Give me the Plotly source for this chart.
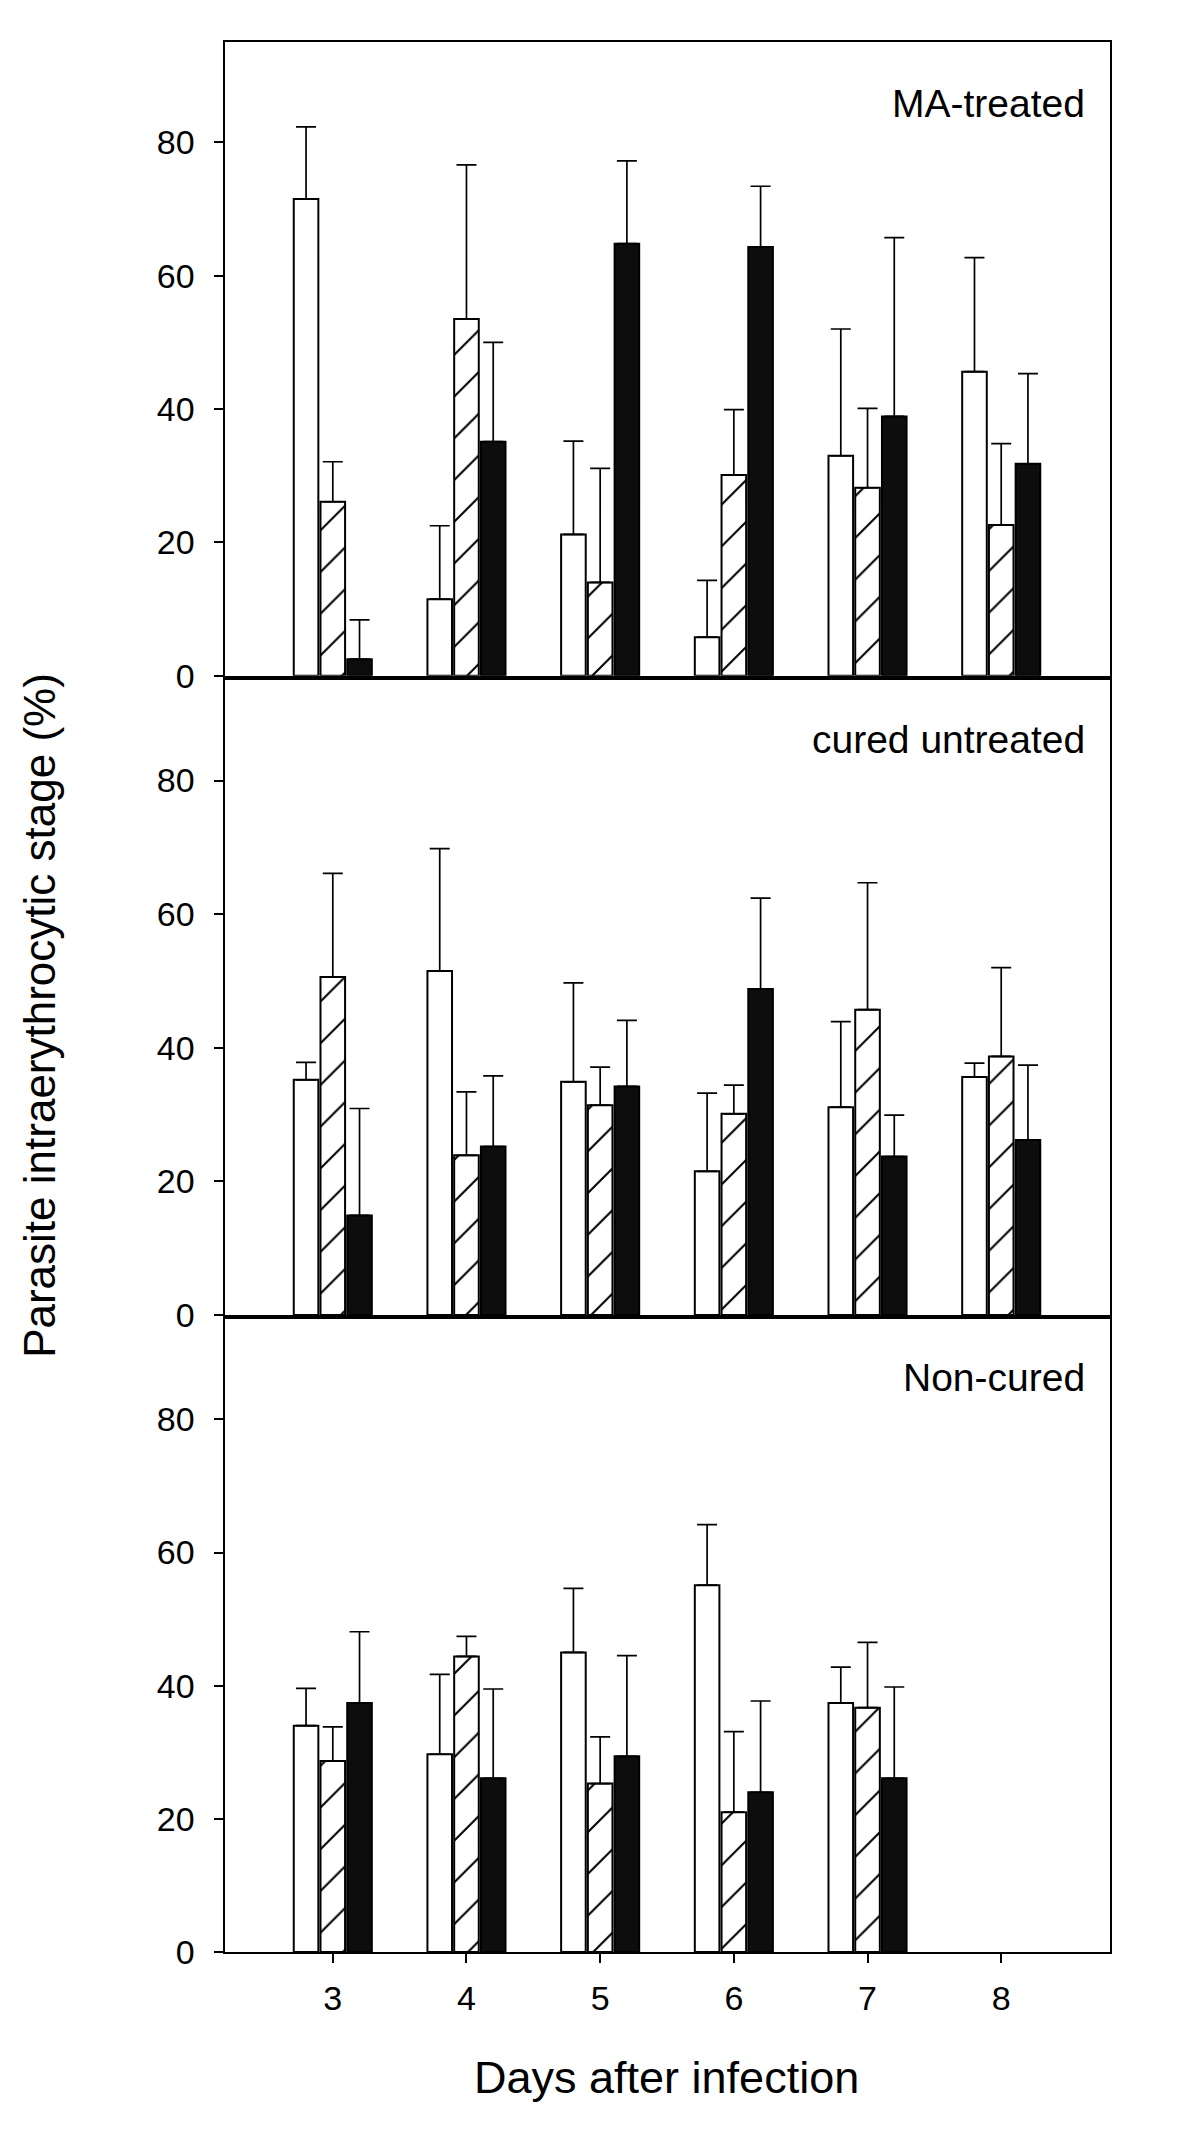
import plotly.graph_objects as go

# ---------------- data ----------------
days = [3, 4, 5, 6, 7, 8]
days_noncured = [3, 4, 5, 6, 7]
panel_names = ["MA-treated", "cured untreated", "Non-cured"]
y_ticks = [0, 20, 40, 60, 80]

# MA-treated
ma_white = [71.5, 11.5, 21.2, 5.8, 33.0, 45.6]
ma_white_err = [10.8, 11.0, 14.0, 8.5, 19.0, 17.1]
ma_hatch = [26.1, 53.5, 14.0, 30.1, 28.2, 22.6]
ma_hatch_err = [6.0, 23.1, 17.1, 9.8, 11.9, 12.2]
ma_black = [2.5, 35.1, 64.8, 64.3, 38.9, 31.8]
ma_black_err = [5.9, 14.9, 12.4, 9.1, 26.8, 13.5]

# cured untreated
cu_white = [35.2, 51.5, 34.9, 21.5, 31.1, 35.6]
cu_white_err = [2.6, 18.3, 14.8, 11.7, 12.8, 2.1]
cu_hatch = [50.6, 23.9, 31.4, 30.1, 45.7, 38.7]
cu_hatch_err = [15.5, 9.5, 5.7, 4.3, 19.0, 13.3]
cu_black = [14.9, 25.2, 34.2, 48.8, 23.7, 26.2]
cu_black_err = [16.0, 10.6, 9.9, 13.6, 6.2, 11.2]

# Non-cured
nc_white = [34.0, 29.7, 45.0, 55.1, 37.4]
nc_white_err = [5.6, 12.0, 9.6, 9.1, 5.4]
nc_hatch = [28.7, 44.4, 25.3, 21.0, 36.7]
nc_hatch_err = [5.1, 3.0, 7.0, 12.1, 9.8]
nc_black = [37.4, 26.1, 29.4, 24.0, 26.1]
nc_black_err = [10.7, 13.4, 15.1, 13.7, 13.7]

# ---------------- figure ----------------
FONT = "Liberation Sans, Arial, Helvetica, sans-serif"
PAGE_W, PAGE_H = 1200, 2155
OFF = 8  # default body margin of the html page
W, H = PAGE_W - 2 * OFF, PAGE_H - 2 * OFF
VSCALE, VSHIFT = 0.9925, -1.7  # observed vertical mapping of the screenshot


def px_x(x):
    return (x - OFF) / W


def px_y(y):
    page = (y - VSHIFT) / VSCALE
    return 1 - (page - OFF) / H


panels = [
    ("", days, (ma_white, ma_white_err), (ma_hatch, ma_hatch_err), (ma_black, ma_black_err)),
    ("2", days, (cu_white, cu_white_err), (cu_hatch, cu_hatch_err), (cu_black, cu_black_err)),
    ("3", days_noncured, (nc_white, nc_white_err), (nc_hatch, nc_hatch_err), (nc_black, nc_black_err)),
]

fig = go.Figure()


def err(arr):
    return dict(type="data", symmetric=False, array=arr, arrayminus=[0] * len(arr),
                color="black", thickness=1.7, width=10)


line = dict(color="black", width=2)
for suf, xs, wh, ha, bl in panels:
    xa, ya = "x" + suf, "y" + suf
    fig.add_trace(go.Bar(x=xs, y=wh[0], error_y=err(wh[1]), xaxis=xa, yaxis=ya,
                         marker=dict(color="white", line=line), offsetgroup="a"))
    fig.add_trace(go.Bar(x=xs, y=ha[0], error_y=err(ha[1]), xaxis=xa, yaxis=ya,
                         marker=dict(color="white", line=line,
                                     pattern=dict(shape="/", fgcolor="black", bgcolor="white",
                                                  size=29.5, solidity=0.07, fillmode="replace")),
                         offsetgroup="b"))
    fig.add_trace(go.Bar(x=xs, y=bl[0], error_y=err(bl[1]), xaxis=xa, yaxis=ya,
                         marker=dict(color="#0d0d0d", line=line), offsetgroup="c"))

xdom = [px_x(224.5), px_x(1109.5)]
ydoms = [
    [px_y(675), px_y(40.5)],
    [px_y(1315), px_y(679.5)],
    [px_y(1953), px_y(1319.5)],
]

layout = dict(
    width=W, height=H,
    margin=dict(l=0, r=0, t=0, b=0),
    paper_bgcolor="white", plot_bgcolor="white",
    showlegend=False,
    barmode="group", bargap=0.4, bargroupgap=0.08,
    font=dict(family=FONT, color="black"),
)

for i, suf in enumerate(["", "2", "3"]):
    bottom = (i == 2)
    layout["xaxis" + suf] = dict(
        domain=xdom, range=[2.19, 8.81], anchor="y" + suf,
        tickvals=days, ticktext=[str(d) for d in days],
        showticklabels=bottom, ticks="outside" if bottom else "",
        ticklen=9, tickwidth=1.5, tickcolor="black",
        tickfont=dict(size=34, family=FONT, color="black"),
        showline=True, linecolor="black", linewidth=2, mirror=True,
        showgrid=False, zeroline=False, ticklabelstandoff=6,
    )
    layout["yaxis" + suf] = dict(
        domain=ydoms[i], range=[0, 95], anchor="x" + suf,
        tickvals=y_ticks, ticktext=[str(v) for v in y_ticks],
        ticks="outside", ticklen=9, tickwidth=1.5, tickcolor="black",
        tickfont=dict(size=34, family=FONT, color="black"),
        showline=True, linecolor="black", linewidth=2, mirror=True,
        showgrid=False, zeroline=False, ticklabelstandoff=12,
    )

label_y_px = [102, 739, 1378]
annotations = []
for name, ypx in zip(panel_names, label_y_px):
    annotations.append(dict(text=name, xref="paper", yref="paper", x=px_x(1087), y=px_y(ypx),
                            xanchor="right", yanchor="middle", showarrow=False,
                            font=dict(family=FONT, size=39, color="black")))
annotations.append(dict(text="Parasite intraerythrocytic stage (%)", xref="paper", yref="paper",
                        x=px_x(40), y=px_y(1015.5), xanchor="center", yanchor="middle",
                        textangle=-90, showarrow=False,
                        font=dict(family=FONT, size=44, color="black")))
annotations.append(dict(text="Days after infection", xref="paper", yref="paper",
                        x=px_x(666.5), y=px_y(2079), xanchor="center", yanchor="middle",
                        showarrow=False, font=dict(family=FONT, size=45, color="black")))
layout["annotations"] = annotations

fig.update_layout(**layout)
fig.write_html("out.html")
